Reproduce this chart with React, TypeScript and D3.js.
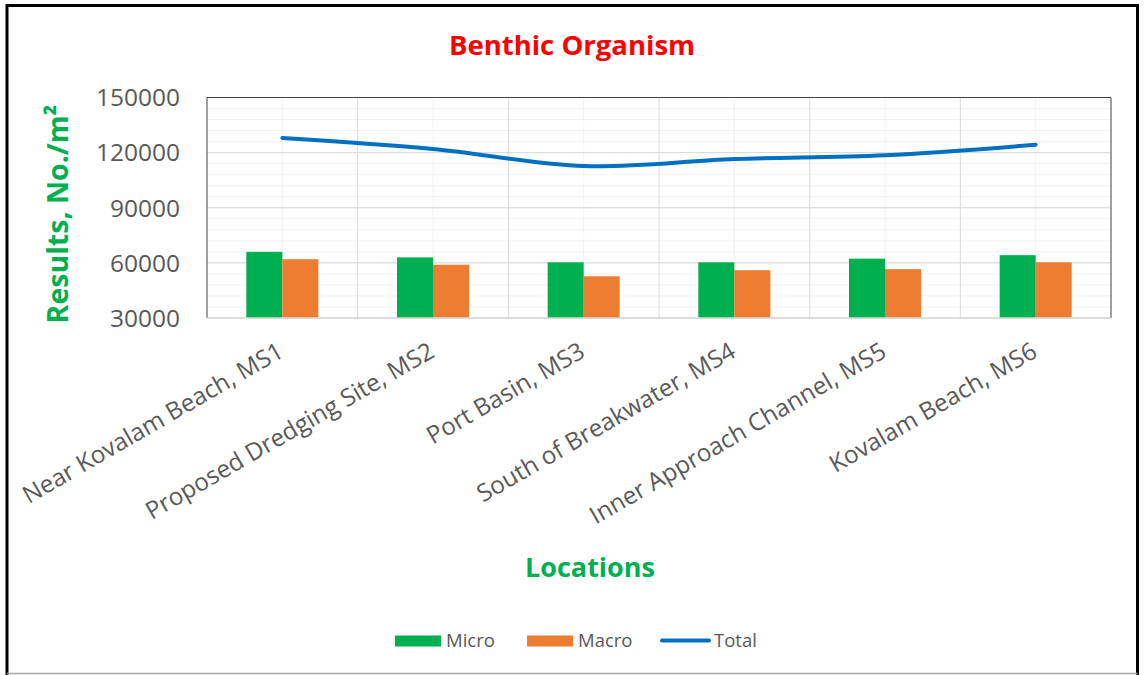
import React from 'react';
import * as d3 from 'd3';

const locations = [
  'Near Kovalam Beach, MS1',
  'Proposed Dredging Site, MS2',
  'Port Basin, MS3',
  'South of Breakwater, MS4',
  'Inner Approach Channel, MS5',
  'Kovalam Beach, MS6',
];
const micro = [66000, 63000, 60300, 60300, 62300, 64200];
const macro = [62000, 59000, 52700, 56000, 56600, 60300];
const total = [128000, 122000, 112700, 116500, 118600, 124300];
const yTicks = [30000, 60000, 90000, 120000, 150000];

const W = 1147;
const H = 675;
const font = '"Open Sans", sans-serif';
const grey = '#595959';
const green = '#00B050';
const orange = '#ED7D31';
const blue = '#0070C0';

const App = () => {
  const left = 207, right = 1111, top = 97.5, bottom = 318;

  // category scale
  const x = d3.scaleBand<string>().domain(locations).range([left, right]);
  const groupW = x.bandwidth() * 0.478;
  const inner = d3.scaleBand<string>().domain(['Micro', 'Macro']).range([0, groupW]);

  const y = d3.scaleLinear().domain([30000, 150000]).range([bottom, top]);
  const minorTicks = d3.range(30000, 150001, 6000);

  const cx = (i: number) => (x(locations[i]) as number) + x.bandwidth() / 2;

  const line = d3.line<number>()
    .x((_, i) => cx(i))
    .y(d => y(d))
    .curve(d3.curveCatmullRom.alpha(0.5));

  return (
    <svg width={W} height={H} style={{ position: 'absolute', left: 0, top: 0, background: '#fff' }}>
      <rect x={0} y={0} width={W} height={H} fill="#fff" />

      {/* minor gridlines */}
      {minorTicks.map(t => (
        <line key={'mh' + t} x1={left} x2={right} y1={y(t)} y2={y(t)} stroke="#F2F2F2" strokeWidth={1} />
      ))}
      {locations.map((l, i) => (
        <line key={'mv' + l} x1={cx(i)} x2={cx(i)} y1={top} y2={bottom} stroke="#F2F2F2" strokeWidth={1} />
      ))}
      {/* major gridlines */}
      {yTicks.map(t => (
        <line key={'h' + t} x1={left} x2={right} y1={y(t)} y2={y(t)} stroke="#D9D9D9" strokeWidth={1} />
      ))}
      {locations.slice(1).map(l => (
        <line key={'v' + l} x1={x(l)} x2={x(l)} y1={top} y2={bottom} stroke="#D9D9D9" strokeWidth={1} />
      ))}

      {/* plot border */}
      <path d={`M${left},${bottom}V${top}H${right}V${bottom}`} fill="none" stroke="#404040" strokeWidth={1} />

      {/* bars */}
      {locations.map((l, i) => {
        const gx = cx(i) - groupW / 2;
        return (
          <g key={'b' + l}>
            <rect x={gx + (inner('Micro') as number)} y={y(micro[i])} width={inner.bandwidth()}
              height={bottom - y(micro[i])} fill={green} />
            <rect x={gx + (inner('Macro') as number)} y={y(macro[i])} width={inner.bandwidth()}
              height={bottom - y(macro[i])} fill={orange} />
          </g>
        );
      })}
      <line x1={left} x2={right} y1={bottom} y2={bottom} stroke="#D9D9D9" strokeWidth={1.5} />

      {/* total line */}
      <path d={line(total) || ''} fill="none" stroke={blue} strokeWidth={4} strokeLinecap="round" />

      {/* y tick labels */}
      {yTicks.map(t => (
        <text key={'yt' + t} x={180} y={y(t)} dy="0.36em" textAnchor="end" fontFamily={font}
          fontSize={24.5} fill={grey}>{t}</text>
      ))}

      {/* x labels */}
      {locations.map((l, i) => (
        <text key={'xl' + l} transform={`translate(${cx(i) + 3},${bottom + 38}) rotate(-30)`}
          textAnchor="end" fontFamily={font} fontSize={24.3} fill={grey}>{l}</text>
      ))}

      {/* titles */}
      <text x={572} y={55} textAnchor="middle" fontFamily={font} fontWeight="bold" fontSize={27.5}
        fill="#FF0000">Benthic Organism</text>
      <text transform={`translate(68,214) rotate(-90)`} textAnchor="middle" fontFamily={font}
        fontWeight="bold" fontSize={28.5} fill={green}>Results, No./m²</text>
      <text x={590} y={577} textAnchor="middle" fontFamily={font} fontWeight="bold" fontSize={27}
        fill={green}>Locations</text>

      {/* legend */}
      <rect x={395} y={635.5} width={46} height={11} fill={green} />
      <text x={446} y={646.5} fontFamily={font} fontSize={18.5} fill={grey}>Micro</text>
      <rect x={527} y={635.5} width={46} height={11} fill={orange} />
      <text x={578} y={646.5} fontFamily={font} fontSize={18.5} fill={grey}>Macro</text>
      <line x1={662} x2={709} y1={640.5} y2={640.5} stroke={blue} strokeWidth={4} strokeLinecap="round" />
      <text x={714} y={646.5} fontFamily={font} fontSize={18.5} fill={grey}>Total</text>

      {/* outer border */}
      <path d={`M7,${H}V5.5H1137.5V${H}`} fill="none" stroke="#000" strokeWidth={3} />
      <line x1={7} x2={1137.5} y1={673.5} y2={673.5} stroke="#A6A6A6" strokeWidth={1.5} />
    </svg>
  );
};

export default App;
